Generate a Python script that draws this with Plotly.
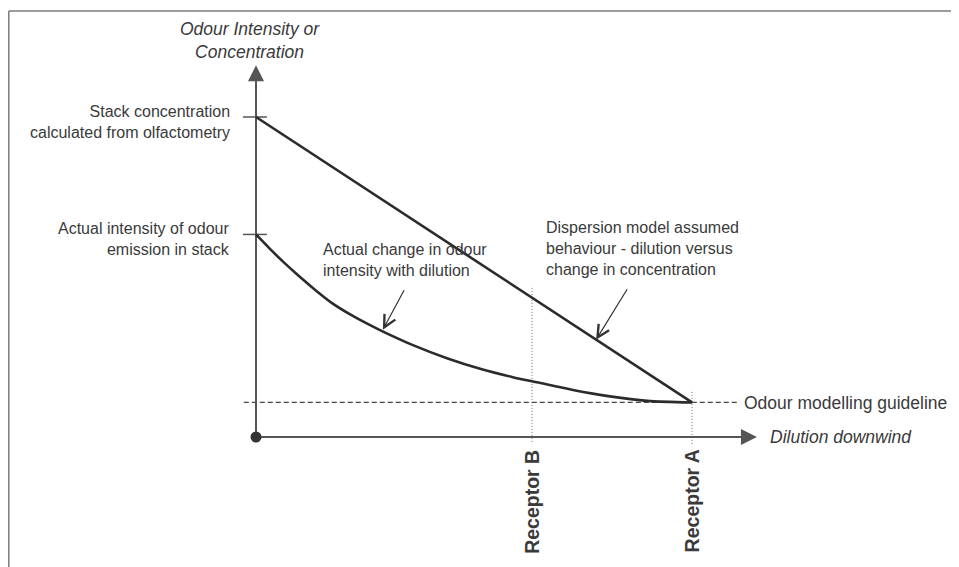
import plotly.graph_objects as go

# datos (unidades del esquema: origen en 0, receptor A en 10, concentracion de chimenea en 10)

dilucion = [0, 0.32, 0.62, 1.01, 1.40, 1.77, 2.16, 2.55, 2.89, 3.60, 4.38,
            5.14, 5.89, 6.44, 7.27, 8.12, 8.97, 10]
intensidad_real = [6.33, 5.88, 5.48, 5.00, 4.55, 4.16, 3.83, 3.54, 3.31, 2.87, 2.46,
                   2.13, 1.87, 1.71, 1.47, 1.27, 1.13, 1.08]

dilucion_modelo = [0, 10]
concentracion_modelo = [10, 1.08]

conc_chimenea = 10
intensidad_chimenea = 6.33
guia = 1.08
receptor_a = 10
receptor_b = 6.33
fin_eje_x = 11.49
fin_eje_y = 11.62

# estilo

linea = "#2b2b2b"
eje = "#555555"
texto = "#3a3a3a"
fuente = "Liberation Sans"

# la pagina tiene 8px de margen en el body
W, H, OFF = 959, 567, 8


def px(x):
    return (x - OFF) / W


def py(y):
    return 1 - (y - OFF) / H


def etiqueta(x, y, txt, anchor="left", size=16, style="normal"):
    return dict(x=px(x), y=py(y), xref="paper", yref="paper", xanchor=anchor,
                yanchor="middle", text=txt, showarrow=False, align=anchor,
                font=dict(size=size, style=style, color=texto, family=fuente))


fig = go.Figure()

# lineas de receptores (punteadas)
for xr, ytop in [(receptor_b, 4.66), (receptor_a, 1.41)]:
    fig.add_trace(go.Scatter(
        x=[xr, xr], y=[ytop, -0.22], mode="lines",
        line=dict(color="#6a6a6a", width=1, dash="1px,2px"),
        hoverinfo="skip"
    ))

# guia de modelacion
fig.add_trace(go.Scatter(
    x=[-0.28, 11.06], y=[guia, guia], mode="lines",
    line=dict(color="#4a4a4a", width=1.2, dash="5px,3px"),
    hoverinfo="skip"
))

# ejes
fig.add_trace(go.Scatter(x=[0, 0], y=[0, fin_eje_y - 0.3], mode="lines",
                         line=dict(color=eje, width=2), hoverinfo="skip"))
fig.add_trace(go.Scatter(x=[0, fin_eje_x - 0.3], y=[0, 0], mode="lines",
                         line=dict(color=eje, width=2), hoverinfo="skip"))

# marcas en el eje y
for yt in [conc_chimenea, intensidad_chimenea]:
    fig.add_trace(go.Scatter(x=[-0.30, 0.25], y=[yt, yt], mode="lines",
                             line=dict(color=eje, width=1.5), hoverinfo="skip"))

# modelo de dispersion
fig.add_trace(go.Scatter(
    x=dilucion_modelo, y=concentracion_modelo, mode="lines",
    line=dict(color=linea, width=2.6), hoverinfo="skip"
))

# cambio real de intensidad
fig.add_trace(go.Scatter(
    x=dilucion, y=intensidad_real, mode="lines",
    line=dict(color=linea, width=2.6, shape="spline", smoothing=0.8),
    hoverinfo="skip"
))

# origen
fig.add_trace(go.Scatter(x=[0], y=[0], mode="markers",
                         marker=dict(color="#333333", size=11), hoverinfo="skip"))

anotaciones = [
    # flechas de ejes
    dict(x=fin_eje_x, y=0, ax=fin_eje_x - 0.6, ay=0, axref="x", ayref="y",
         showarrow=True, arrowhead=2, arrowsize=1.6, arrowwidth=2, arrowcolor=eje, text=""),
    dict(x=0, y=fin_eje_y, ax=0, ay=fin_eje_y - 0.8, axref="x", ayref="y",
         showarrow=True, arrowhead=2, arrowsize=1.6, arrowwidth=2, arrowcolor=eje, text=""),
    # titulos de ejes
    etiqueta(250, 40.5, "Odour Intensity or<br>Concentration", "center", 17.5, "italic"),
    etiqueta(768, 437, "Dilution downwind", "left", 17.5, "italic"),
    etiqueta(742, 403, "Odour modelling guideline", "left", 17.5),
    # etiquetas del eje y
    etiqueta(232, 122.5, "Stack concentration<br>calculated from olfactometry", "right"),
    etiqueta(232, 239, "Actual intensity of odour<br>emission in stack", "right"),
    # notas con flecha
    etiqueta(321, 260.5, "Actual change in odour<br>intensity with dilution"),
    dict(x=2.91, y=3.35, ax=22, ay=-41, showarrow=True, arrowhead=5,
         arrowsize=2, arrowwidth=1.2, arrowcolor="#333333", text=""),
    etiqueta(544, 249, "Dispersion model assumed<br>behaviour - dilution versus<br>change in concentration"),
    dict(x=7.80, y=3.04, ax=32, ay=-52, showarrow=True, arrowhead=5,
         arrowsize=2, arrowwidth=1.2, arrowcolor="#333333", text=""),
    # receptores
    dict(x=receptor_b, y=-0.34, yanchor="top", text="<b>Receptor B</b>", textangle=-90,
         showarrow=False, font=dict(size=19.5, color=texto, family=fuente)),
    dict(x=receptor_a, y=-0.34, yanchor="top", text="<b>Receptor A</b>", textangle=-90,
         showarrow=False, font=dict(size=19.5, color=texto, family=fuente)),
]

fig.update_layout(
    width=W,
    height=H,
    margin=dict(l=0, r=0, t=0, b=0),
    plot_bgcolor="white",
    paper_bgcolor="white",
    showlegend=False,
    xaxis=dict(range=[-(256 - OFF) / 43.6, (W - 256 + OFF) / 43.6], visible=False, fixedrange=True),
    yaxis=dict(range=[-(H - 437 + OFF) / 32, (437 - OFF) / 32], visible=False, fixedrange=True),
    annotations=anotaciones,
    shapes=[
        dict(type="line", xref="paper", yref="paper", x0=px(8.8), y0=py(11),
             x1=1, y1=py(11), line=dict(color="#7a7a7a", width=1.5)),
        dict(type="line", xref="paper", yref="paper", x0=px(8.8), y0=py(11),
             x1=px(8.8), y1=0, line=dict(color="#7a7a7a", width=1.5)),
    ],
)

fig.write_html("out.html", config={"displayModeBar": False})
